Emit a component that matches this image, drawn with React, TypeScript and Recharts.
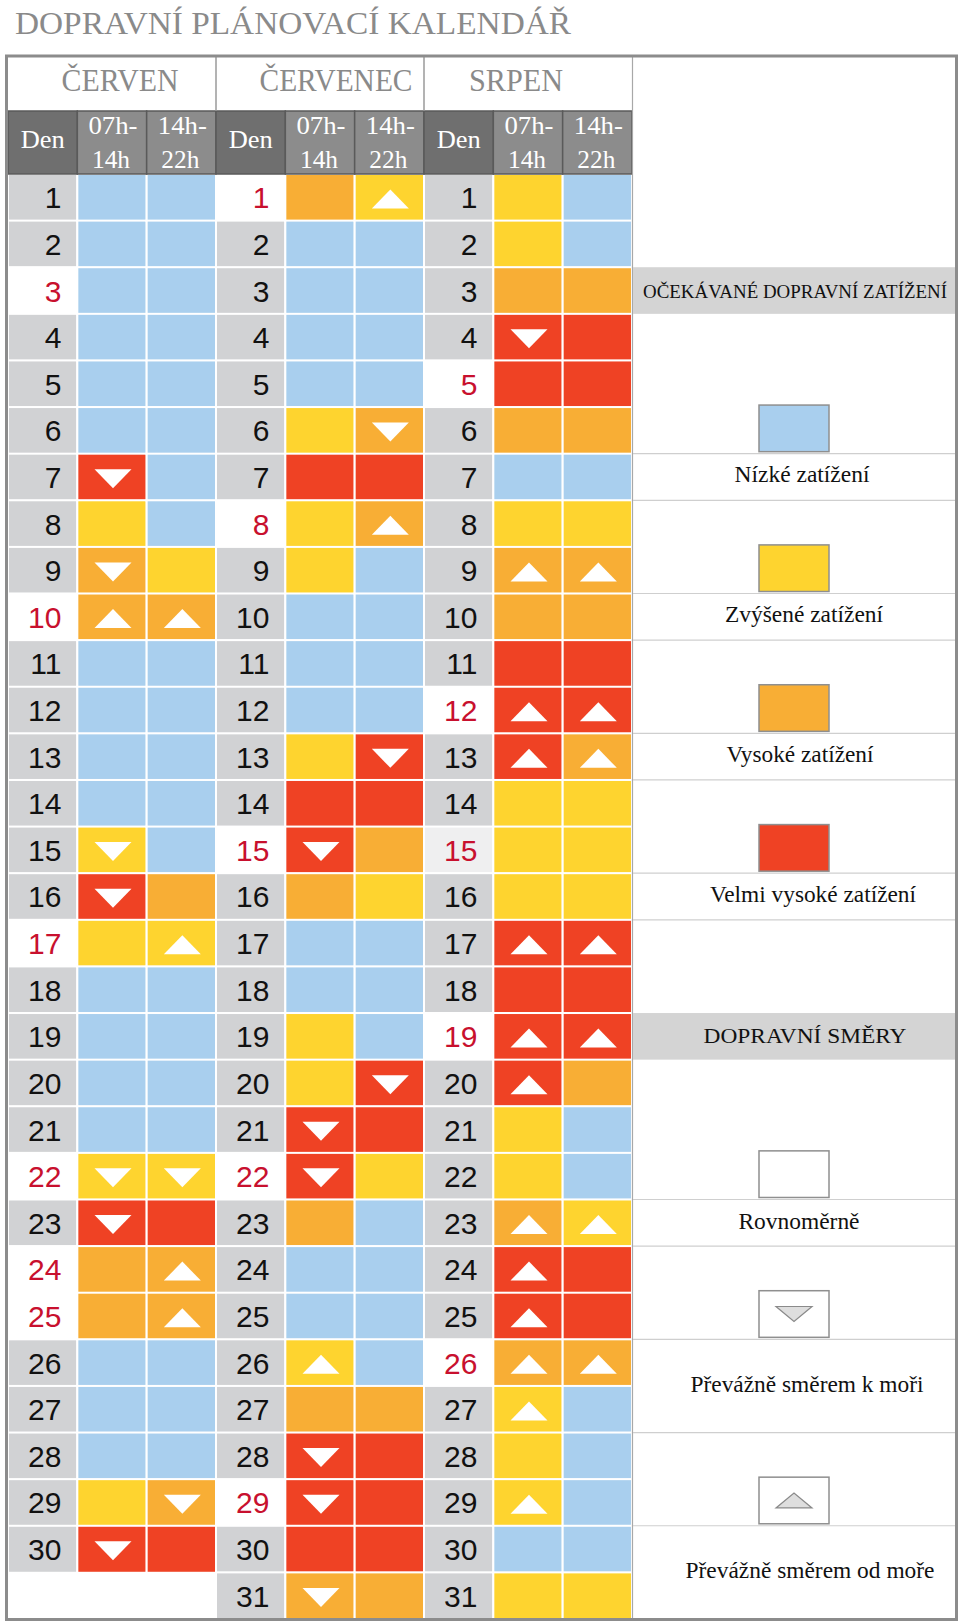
import React from 'react';
import { BarChart, Bar, XAxis, YAxis } from 'recharts';

// ---------- DATA ----------
const dayNumbers = [1, 2, 3, 4, 5, 6, 7, 8, 9, 10, 11, 12, 13, 14, 15, 16, 17, 18, 19, 20, 21, 22, 23, 24, 25, 26, 27, 28, 29, 30, 31];
const monthNames = ['ČERVEN', 'ČERVENEC', 'SRPEN'];
const monthLengths = [30, 31, 31];
const slotTopLabels = ['07h-', '14h-'];
const slotBottomLabels = ['14h', '22h'];
const dayHeader = 'Den';

// B = nízké, Y = zvýšené, O = vysoké, R = velmi vysoké; d = k moři (▼), u = od moře (▲)
const juneAM = ['B','B','B','B','B','B','Rd','Y','Od','Ou','B','B','B','B','Yd','Rd','Y','B','B','B','B','Yd','Rd','O','O','B','B','B','Y','Rd'];
const junePM = ['B','B','B','B','B','B','B','B','Y','Ou','B','B','B','B','B','O','Yu','B','B','B','B','Yd','R','Ou','Ou','B','B','B','Od','R'];
const julyAM = ['O','B','B','B','B','Y','R','Y','Y','B','B','B','Y','R','Rd','O','B','B','Y','Y','Rd','Rd','O','B','B','Yu','O','Rd','Rd','R','Od'];
const julyPM = ['Yu','B','B','B','B','Od','R','Ou','B','B','B','B','Rd','R','O','Y','B','B','B','Rd','R','Y','B','B','B','B','O','R','R','R','O'];
const augAM = ['Y','Y','O','Rd','R','O','B','Y','Ou','O','R','Ru','Ru','Y','Y','Y','Ru','R','Ru','Ru','Y','Y','Ou','Ru','Ru','Ou','Yu','Y','Yu','B','Y'];
const augPM = ['B','B','O','R','R','O','B','Y','Ou','O','R','Ru','Ou','Y','Y','Y','Ru','R','Ru','O','B','B','Yu','R','R','Ou','B','B','B','B','Y'];

const holidaysJune = [3, 10, 17, 22, 24, 25];
const holidaysJuly = [1, 8, 15, 22, 29];
const holidaysAug = [5, 12, 15, 19, 26];
const tintedHolidaysAug = [15];

const title = 'DOPRAVNÍ PLÁNOVACÍ KALENDÁŘ';
const legendLoadTitle = 'OČEKÁVANÉ DOPRAVNÍ ZATÍŽENÍ';
const legendLoadLabels = ['Nízké zatížení', 'Zvýšené zatížení', 'Vysoké zatížení', 'Velmi vysoké zatížení'];
const legendLoadCodes = ['B', 'Y', 'O', 'R'];
const legendDirTitle = 'DOPRAVNÍ SMĚRY';
const legendDirLabels = ['Rovnoměrně', 'Převážně směrem k moři', 'Převážně směrem od moře'];

// ---------- STYLE ----------
const levelColor: Record<string, string> = { B: '#a9cfee', Y: '#fed42f', O: '#f8ae35', R: '#ef4224' };
const DEN_BG = '#d1d2d4';
const RED_TEXT = '#c8102e';
const GRAY_TEXT = '#8a8a8a';
const SERIF = "'Liberation Serif', 'Times New Roman', Times, serif";
const SANS = "'Liberation Sans', Arial, sans-serif";

const W = 960;
const H = 1624;
const TOP = 174;
const BOTTOM = 1619;
const LEFT = 8;
const RIGHT = 632;
const ROW_H = (BOTTOM - TOP) / dayNumbers.length;
const COL_W = (RIGHT - LEFT) / 9;
const rowTop = (k: number) => TOP + (k - 1) * ROW_H;
const rowMid = (k: number) => TOP + (k - 0.5) * ROW_H;

const holidays = [holidaysJune, holidaysJuly, holidaysAug];
const slots = [[juneAM, junePM], [julyAM, julyPM], [augAM, augPM]];
const colKeys = ['c0', 'c1', 'c2', 'c3', 'c4', 'c5', 'c6', 'c7', 'c8'];

const tableData = dayNumbers.map((d) => {
  const row: Record<string, number> = { day: d };
  colKeys.forEach((k) => (row[k] = 1));
  return row;
});

const Triangle = ({ cx, cy, dir, w, h, fill, stroke }: any) => {
  const pts =
    dir === 'd'
      ? `${cx - w / 2},${cy - h / 2} ${cx + w / 2},${cy - h / 2} ${cx},${cy + h / 2}`
      : `${cx - w / 2},${cy + h / 2} ${cx + w / 2},${cy + h / 2} ${cx},${cy - h / 2}`;
  return <polygon points={pts} fill={fill} stroke={stroke || 'none'} strokeWidth={stroke ? 1.2 : 0} />;
};

const makeShape = (col: number) => (props: any) => {
  const { x, y, width, height, index } = props;
  const m = Math.floor(col / 3);
  const kind = col % 3;
  const day = dayNumbers[index];
  if (day > monthLengths[m]) return <g />;
  if (kind === 0) {
    const red = holidays[m].includes(day);
    const bg = red ? (m === 2 && tintedHolidaysAug.includes(day) ? '#efeff0' : '#ffffff') : DEN_BG;
    return (
      <g>
        <rect x={x} y={y} width={width} height={height} fill={bg} stroke="#ffffff" strokeWidth={2} />
        <text
          x={x + width - 16}
          y={y + height / 2 + 10.8}
          textAnchor="end"
          fontFamily={SANS}
          fontSize={30}
          fill={red ? RED_TEXT : '#111111'}
        >
          {day}
        </text>
      </g>
    );
  }
  const code = slots[m][kind - 1][index];
  const fill = levelColor[code[0]];
  const dir = code[1];
  return (
    <g>
      <rect x={x} y={y} width={width} height={height} fill={fill} stroke="#ffffff" strokeWidth={2} />
      {dir && <Triangle cx={x + width / 2 + 1} cy={y + height / 2 + 1.5} dir={dir} w={37} h={19} fill="#ffffff" />}
    </g>
  );
};

const Decorations = () => {
  const monthBounds = [0, 1, 2].map((m) => [LEFT + m * 3 * COL_W, LEFT + (m + 1) * 3 * COL_W]);
  const monthCenters = [120, 336, 516];
  const monthWidths = [117, 153, 94];
  const legendLines = [6, 7, 9, 10, 12, 13, 15, 16, 22, 23, 25, 27, 29];
  const swX = 759;
  const swW = 70;
  const loadRows = [6, 9, 12, 15];
  const loadTextRows = [7, 10, 13, 16];
  const loadTextX = [802, 804, 800, 813];
  const loadTextW = [135, 158, 147, 206];
  const dirSwatchRows = [22, 25, 29];
  const dirTextY = [rowMid(23), rowTop(27), rowTop(31)];
  const dirTextX = [799, 807, 810];
  const dirTextW = [121, 233, 249];
  return (
    <svg width={W} height={H} style={{ position: 'absolute', left: 0, top: 0, pointerEvents: 'none' }}>
      <text x={15} y={34} fontFamily={SERIF} fontSize={31} fill={GRAY_TEXT} textLength={556} lengthAdjust="spacingAndGlyphs">
        {title}
      </text>
      {/* month headers */}
      {monthNames.map((n, i) => (
        <text key={n} x={monthCenters[i]} y={91} textAnchor="middle" fontFamily={SERIF} fontSize={31} fill={GRAY_TEXT} textLength={monthWidths[i]} lengthAdjust="spacingAndGlyphs">
          {n}
        </text>
      ))}
      {/* sub header */}
      {[0, 1, 2].map((m) => (
        <g key={m}>
          {[0, 1, 2].map((k) => {
            const x0 = monthBounds[m][0] + k * COL_W;
            return (
              <rect key={k} x={x0} y={111} width={COL_W} height={TOP - 111} fill={k === 0 ? '#6f6f6f' : '#8c8c8c'} stroke="#5a5a5a" strokeWidth={1.5} />
            );
          })}
          <text x={monthBounds[m][0] + COL_W / 2} y={148} textAnchor="middle" fontFamily={SERIF} fontSize={25} fill="#ffffff" textLength={44} lengthAdjust="spacingAndGlyphs">
            {dayHeader}
          </text>
          {[0, 1].map((s) => {
            const cx = monthBounds[m][0] + (s + 1.5) * COL_W + 1;
            return (
              <g key={s}>
                <text x={cx} y={134} textAnchor="middle" fontFamily={SERIF} fontSize={25} fill="#ffffff" textLength={49} lengthAdjust="spacingAndGlyphs">
                  {slotTopLabels[s]}
                </text>
                <text x={cx - 2} y={168} textAnchor="middle" fontFamily={SERIF} fontSize={25} fill="#ffffff" textLength={38} lengthAdjust="spacingAndGlyphs">
                  {slotBottomLabels[s]}
                </text>
              </g>
            );
          })}
        </g>
      ))}
      {/* month separators */}
      {[monthBounds[1][0], monthBounds[2][0]].map((x) => (
        <line key={x} x1={x} x2={x} y1={56} y2={111} stroke="#9a9a9a" strokeWidth={1.5} />
      ))}
      <line x1={RIGHT + 0.5} x2={RIGHT + 0.5} y1={56} y2={BOTTOM} stroke="#a8a8a8" strokeWidth={1.2} />
      {/* legend column */}
      <rect x={RIGHT + 1} y={rowTop(3)} width={956 - RIGHT - 2} height={ROW_H} fill="#d4d4d4" />
      <rect x={RIGHT + 1} y={rowTop(19)} width={956 - RIGHT - 2} height={ROW_H} fill="#d4d4d4" />
      {legendLines.map((k) => (
        <line key={k} x1={RIGHT + 1} x2={955} y1={rowTop(k + 1)} y2={rowTop(k + 1)} stroke="#cfcfcf" strokeWidth={1.2} />
      ))}
      <text x={795} y={rowMid(3) + 7} textAnchor="middle" fontFamily={SERIF} fontSize={19} fill="#111" textLength={304} lengthAdjust="spacingAndGlyphs">
        {legendLoadTitle}
      </text>
      <text x={805} y={rowMid(19) + 7} textAnchor="middle" fontFamily={SERIF} fontSize={21} fill="#111" textLength={203} lengthAdjust="spacingAndGlyphs">
        {legendDirTitle}
      </text>
      {legendLoadCodes.map((c, i) => (
        <g key={c}>
          <rect x={swX} y={rowTop(loadRows[i]) - 2} width={swW} height={ROW_H} fill={levelColor[c]} stroke="#8f8f8f" strokeWidth={1.5} />
          <text x={loadTextX[i]} y={rowMid(loadTextRows[i]) + 5} textAnchor="middle" fontFamily={SERIF} fontSize={23} fill="#111" textLength={loadTextW[i]} lengthAdjust="spacingAndGlyphs">
            {legendLoadLabels[i]}
          </text>
        </g>
      ))}
      {dirSwatchRows.map((r, i) => {
        const y0 = rowTop(r) - 2;
        return (
          <g key={r}>
            <rect x={swX} y={y0} width={swW} height={ROW_H} fill="#ffffff" stroke="#8f8f8f" strokeWidth={1.5} />
            {i > 0 && <Triangle cx={swX + swW / 2} cy={y0 + ROW_H / 2} dir={i === 1 ? 'd' : 'u'} w={36} h={15} fill="#dedede" stroke="#8a8a8a" />}
            <text x={dirTextX[i]} y={dirTextY[i] + 6} textAnchor="middle" fontFamily={SERIF} fontSize={23} fill="#111" textLength={dirTextW[i]} lengthAdjust="spacingAndGlyphs">
              {legendDirLabels[i]}
            </text>
          </g>
        );
      })}
      {/* outer border */}
      <rect x={6.5} y={56} width={950} height={BOTTOM - 56 + 0.5} fill="none" stroke="#8c8c8c" strokeWidth={3} />
    </svg>
  );
};

export default function App() {
  return (
    <div style={{ position: 'absolute', left: 0, top: 0, width: W, height: H, background: '#ffffff' }}>
      <BarChart
        width={W}
        height={H}
        data={tableData}
        layout="vertical"
        margin={{ top: TOP, right: W - RIGHT, bottom: H - BOTTOM, left: LEFT }}
        barCategoryGap={0}
        barGap={0}
      >
        <XAxis type="number" domain={[0, 9]} hide />
        <YAxis type="category" dataKey="day" hide />
        {colKeys.map((k, i) => (
          <Bar key={k} dataKey={k} stackId="t" isAnimationActive={false} shape={makeShape(i)} />
        ))}
      </BarChart>
      <Decorations />
    </div>
  );
}
